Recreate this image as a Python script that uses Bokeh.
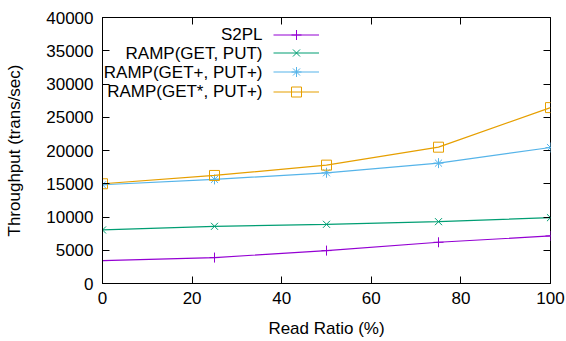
from bokeh.plotting import figure
from bokeh.models import Range1d, LinearAxis, FixedTicker, Legend, LegendItem, Label
from bokeh.embed import file_html
from bokeh.resources import INLINE

# ---- data ----
read_ratio = [0, 25, 50, 75, 100]
s2pl = [3450, 3900, 4950, 6200, 7150]
ramp_get_put = [8050, 8600, 8900, 9300, 9900]
ramp_getp_putp = [14850, 15650, 16650, 18100, 20450]
ramp_gets_putp = [15000, 16250, 17800, 20500, 26450]

series_names = ["S2PL", "RAMP(GET, PUT)", "RAMP(GET+, PUT+)", "RAMP(GET*, PUT+)"]
series_values = [s2pl, ramp_get_put, ramp_getp_putp, ramp_gets_putp]
colors = ["#9400d3", "#009e73", "#56b4e9", "#e69f00"]
markers = ["cross", "x", "asterisk", "square"]

x_ticks = [0, 20, 40, 60, 80, 100]
y_ticks = [0, 5000, 10000, 15000, 20000, 25000, 30000, 35000, 40000]

FONT = "Liberation Sans"
FS = "17px"

p = figure(width=566, height=341, output_backend="svg", toolbar_location=None,
           x_range=Range1d(0, 100), y_range=Range1d(0, 40000),
           min_border_left=102, min_border_right=16, min_border_top=17, min_border_bottom=58)
p.grid.visible = False
p.outline_line_color = "black"
p.outline_line_width = 1
p.background_fill_color = "white"
p.border_fill_color = "white"

for ax, ticks in ((p.xaxis[0], x_ticks), (p.yaxis[0], y_ticks)):
    ax.ticker = FixedTicker(ticks=ticks)
    ax.major_tick_in = 7
    ax.major_tick_out = 0
    ax.minor_tick_in = 0
    ax.minor_tick_out = 0
    ax.axis_line_color = "black"
    ax.major_tick_line_color = "black"
    ax.major_label_text_font = FONT
    ax.major_label_text_font_size = FS
    ax.major_label_text_color = "black"
    ax.axis_label_text_font = FONT
    ax.axis_label_text_font_size = FS
    ax.axis_label_text_font_style = "normal"
    ax.axis_label_text_color = "black"

p.xaxis.axis_label = "Read Ratio (%)"
p.yaxis.axis_label = "Throughput (trans/sec)"
p.xaxis.major_label_standoff = 8
p.xaxis.axis_label_standoff = 12
p.yaxis.major_label_standoff = 9
p.yaxis.axis_label_standoff = 19

# mirrored ticks (no labels)
for loc, ticks in (("above", x_ticks), ("right", y_ticks)):
    ax = LinearAxis(ticker=FixedTicker(ticks=ticks),
                    major_label_overrides={t: "" for t in ticks},
                    axis_line_color=None, major_tick_in=7, major_tick_out=0,
                    minor_tick_in=0, minor_tick_out=0, major_label_standoff=0,
                    major_tick_line_color="black")
    p.add_layout(ax, loc)

# legend rows (screen units, relative to the plot frame's bottom-left)
row_center = [249, 230.3, 211.3, 192]
for name, vals, c, m, yc in zip(series_names, series_values, colors, markers, row_center):
    ln = p.line(read_ratio, vals, line_color=c, line_width=1.2)
    sc = p.scatter(read_ratio, vals, marker=m, size=10, line_color=c,
                   fill_color=None, line_width=1)
    lg = Legend(items=[LegendItem(label=" ", renderers=[ln, sc])],
                location=(171, yc - 12.5), glyph_width=46, glyph_height=25,
                label_height=25, label_width=0, label_standoff=0, padding=0,
                margin=0, border_line_color=None, background_fill_alpha=0,
                label_text_font=FONT, label_text_font_size=FS)
    p.add_layout(lg, "center")
    p.add_layout(Label(x=160, y=yc, x_units="screen", y_units="screen", text=name,
                       text_align="right", text_baseline="middle",
                       text_font=FONT, text_font_size=FS, text_color="black"))

open("out.html", "w").write(file_html(p, INLINE))
